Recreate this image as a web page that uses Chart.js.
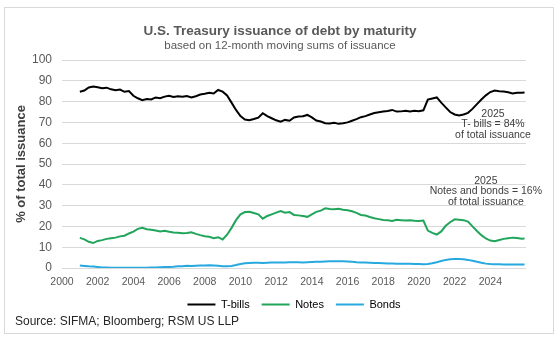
<!DOCTYPE html>
<html lang="en">
<head>
    <meta charset="UTF-8">
    <meta name="viewport" content="width=device-width, initial-scale=1.0">
    <title>U.S. Treasury issuance of debt by maturity</title>
    <script src="https://cdn.jsdelivr.net/npm/chart.js"></script>
    <style>
        html, body {
            margin: 0;
            padding: 0;
            background: #ffffff;
        }

        .chart-container {
            position: relative;
            width: 560px;
            height: 339px;
        }
    </style>
</head>
<body>
    <div class="chart-container">
        <canvas id="issuanceChart"></canvas>
    </div>

    <script>
        const FONT = '"Liberation Sans", Arial, sans-serif';

        const title = 'U.S. Treasury issuance of debt by maturity';
        const subtitle = 'based on 12-month moving sums of issuance';
        const source = 'Source: SIFMA; Bloomberg; RSM US LLP';
        const billsNote = ['2025', 'T- bills = 84%', 'of total issuance'];
        const couponNote = ['2025', 'Notes and bonds = 16%', 'of total issuance'];

        const seriesNames = ['T-bills', 'Notes', 'Bonds'];
        const seriesColors = ['#000000', '#21a55b', '#27a9df'];
        const yearTicks = [2000, 2002, 2004, 2006, 2008, 2010, 2012, 2014, 2016, 2018, 2020, 2022, 2024];

        // quarterly readings, Q1 2001 .. Q4 2025, plus the latest month
        const dates = [];
        for (let q = 0; q < 100; q++) dates.push(2001 + q / 4);
        dates.push(2025.92);

        // share of total issuance, %
        const tbills = [
            84.7, 85.3, 86.8, 87.2,
            86.9, 86.4, 86.7, 85.9,
            85.5, 85.8, 84.7, 85.1,
            82.8, 81.6, 80.7, 81.2,
            81.0, 82.0, 81.6, 82.4,
            82.8, 82.2, 82.6, 82.3,
            82.7, 82.0, 82.6, 83.4,
            83.8, 84.3, 83.9, 85.6,
            84.8, 83.0, 79.5, 76.0,
            73.0, 71.4, 71.0, 71.6,
            72.3, 74.4, 73.0, 72.0,
            71.0, 70.3, 71.2, 70.8,
            72.4, 72.8, 73.0, 73.6,
            72.4, 70.9, 70.4, 69.6,
            69.5, 69.8, 69.3, 69.6,
            70.0, 70.8, 71.6, 72.5,
            73.0, 73.8, 74.5, 74.9,
            75.2, 75.5, 76.0, 75.2,
            75.3, 75.6, 75.3, 75.6,
            75.4, 75.8, 81.0, 81.5,
            82.0, 79.5, 77.2, 75.0,
            73.8, 73.3, 73.8, 74.6,
            76.5, 78.8, 81.0, 83.0,
            84.6, 85.3, 85.0, 84.8,
            84.5, 83.9, 84.3, 84.2, 84.4
        ];

        const notes = [
            14.5, 13.8, 12.6, 12.0,
            13.0, 13.4, 14.0, 14.3,
            14.6, 15.2, 15.5, 16.6,
            17.5, 18.8, 19.3, 18.6,
            18.4, 18.0, 17.6, 17.9,
            17.4, 17.1, 16.9, 16.7,
            16.8, 17.2, 16.4, 15.8,
            15.3, 15.0, 14.3, 14.8,
            13.7, 16.0, 19.3, 23.0,
            25.8, 26.9, 27.0, 26.4,
            25.8, 23.7, 25.0, 25.8,
            26.6, 27.4, 26.6, 26.9,
            25.5, 25.3, 25.0, 24.6,
            25.8, 27.0, 27.6, 28.7,
            28.4, 28.2, 28.5, 28.0,
            27.8, 27.3, 26.5, 25.5,
            25.2, 24.5, 23.9, 23.5,
            23.1, 23.0, 22.6, 23.2,
            23.0, 22.8, 23.0, 22.7,
            22.6, 22.8, 18.0, 16.9,
            16.1, 17.6, 20.3, 22.0,
            23.4, 23.2, 23.0, 22.3,
            20.0, 17.8, 15.8, 14.2,
            13.2, 12.9, 13.5, 14.0,
            14.3, 14.6, 14.4, 14.1, 14.2
        ];

        const bonds = [
            1.2, 1.0, 0.8, 0.7,
            0.5, 0.3, 0.2, 0.1,
            0.1, 0.1, 0.1, 0.1,
            0.1, 0.1, 0.1, 0.1,
            0.2, 0.3, 0.4, 0.5,
            0.5, 0.6, 0.8, 0.9,
            1.1, 1.0, 1.1, 1.2,
            1.2, 1.3, 1.2, 1.1,
            0.9, 0.8, 1.0, 1.4,
            1.9, 2.3, 2.4, 2.5,
            2.5, 2.4, 2.5, 2.6,
            2.6, 2.7, 2.7, 2.8,
            2.8, 2.8, 2.7, 2.8,
            2.9, 3.0, 3.0, 3.1,
            3.2, 3.3, 3.3, 3.2,
            3.1, 3.0, 2.8, 2.7,
            2.6, 2.5, 2.4, 2.4,
            2.3, 2.2, 2.2, 2.1,
            2.1, 2.0, 2.0, 1.9,
            1.9, 1.8, 1.9, 2.3,
            2.8, 3.4, 3.9, 4.2,
            4.3, 4.3, 4.2, 3.9,
            3.5, 3.0, 2.5, 2.1,
            1.9, 1.8, 1.8, 1.7,
            1.7, 1.7, 1.7, 1.7, 1.7
        ];

        const toPoints = values => values.map((v, i) => ({ x: dates[i], y: v }));

        // frame, headings, call-outs and source line
        const chartText = {
            id: 'chartText',
            beforeDraw(chart) {
                const ctx = chart.ctx;
                ctx.save();
                ctx.fillStyle = '#ffffff';
                ctx.fillRect(0, 0, chart.width, chart.height);
                ctx.strokeStyle = '#d9d9d9';
                ctx.lineWidth = 1;
                ctx.strokeRect(4.5, 7.5, 549, 326);
                ctx.restore();
            },
            afterDraw(chart) {
                const ctx = chart.ctx;
                const xs = chart.scales.x;
                const ys = chart.scales.y;
                ctx.save();
                ctx.textAlign = 'center';
                ctx.textBaseline = 'middle';

                ctx.fillStyle = '#595959';
                ctx.font = 'bold 13.5px ' + FONT;
                ctx.fillText(title, chart.width / 2, 31.5);
                ctx.font = '11.5px ' + FONT;
                ctx.fillText(subtitle, chart.width / 2, 45.5);

                ctx.fillStyle = '#404040';
                ctx.font = '10.5px ' + FONT;
                billsNote.forEach((line, i) => {
                    ctx.fillText(line, xs.getPixelForValue(2024.15), ys.getPixelForValue(74) + i * 10.5);
                });
                couponNote.forEach((line, i) => {
                    ctx.fillText(line, xs.getPixelForValue(2023.75), ys.getPixelForValue(42) + i * 10.5);
                });

                ctx.textAlign = 'left';
                ctx.fillStyle = '#262626';
                ctx.font = '12px ' + FONT;
                ctx.fillText(source, 15, 322);
                ctx.restore();
            }
        };

        const config = {
            type: 'line',
            data: {
                datasets: [tbills, notes, bonds].map((values, i) => ({
                    label: seriesNames[i],
                    data: toPoints(values),
                    borderColor: seriesColors[i],
                    backgroundColor: seriesColors[i],
                    borderWidth: 2,
                    pointRadius: 0,
                    tension: 0
                }))
            },
            options: {
                responsive: true,
                maintainAspectRatio: false,
                animation: false,
                devicePixelRatio: 1,
                layout: {
                    padding: { top: 60, left: 10, right: 34, bottom: 19 }
                },
                scales: {
                    x: {
                        type: 'linear',
                        min: 2000,
                        max: 2026,
                        grid: { display: false },
                        border: { display: false },
                        afterBuildTicks: scale => {
                            scale.ticks = yearTicks.map(v => ({ value: v }));
                        },
                        ticks: {
                            color: '#595959',
                            font: { family: FONT, size: 10.5 },
                            padding: 0,
                            maxRotation: 0,
                            autoSkip: false,
                            callback: value => String(value)
                        },
                        afterFit: scale => { scale.height = 19; }
                    },
                    y: {
                        min: 0,
                        max: 100,
                        grid: {
                            color: '#d9d9d9',
                            lineWidth: 1,
                            drawTicks: false
                        },
                        border: { display: false },
                        ticks: {
                            stepSize: 10,
                            color: '#595959',
                            font: { family: FONT, size: 12 },
                            padding: 10
                        },
                        title: {
                            display: true,
                            text: '% of total issuance',
                            color: '#404040',
                            font: { family: FONT, size: 13, weight: 'bold' },
                            padding: { top: 4, bottom: 0 }
                        },
                        afterFit: scale => { scale.width = 52; }
                    }
                },
                plugins: {
                    legend: {
                        position: 'bottom',
                        fullSize: false,
                        labels: {
                            color: '#595959',
                            font: { family: FONT, size: 11 },
                            boxWidth: 28,
                            boxHeight: 2,
                            padding: 12,
                            generateLabels: chart => chart.data.datasets.map((ds, i) => ({
                                text: ds.label,
                                fillStyle: ds.borderColor,
                                strokeStyle: ds.borderColor,
                                lineWidth: 0,
                                hidden: false,
                                datasetIndex: i
                            }))
                        }
                    },
                    tooltip: { enabled: false }
                }
            },
            plugins: [chartText]
        };

        new Chart(document.getElementById('issuanceChart'), config);
    </script>
</body>
</html>
